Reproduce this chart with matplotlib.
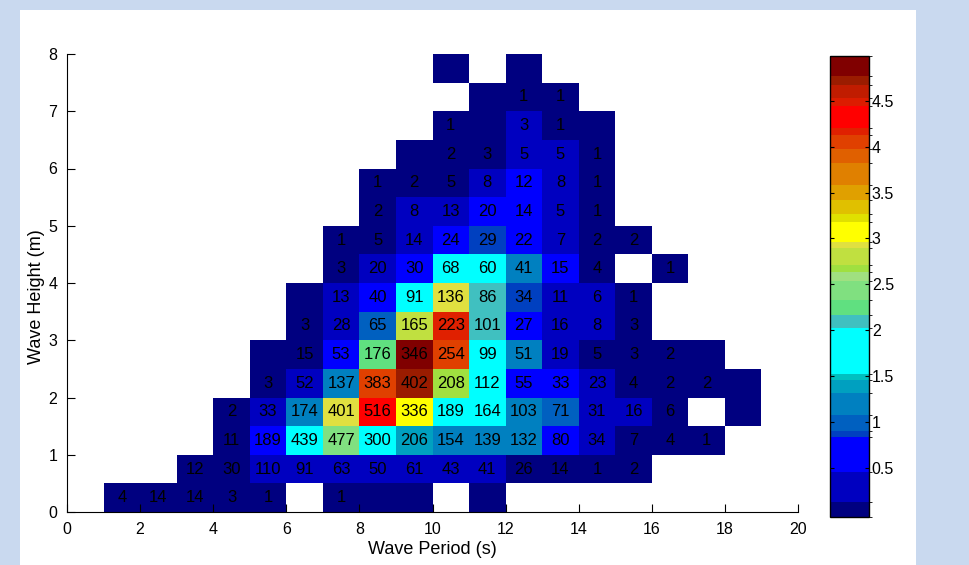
import numpy as np
import matplotlib
matplotlib.use('Agg')
from matplotlib import pyplot as plt, patches
from matplotlib.colors import ListedColormap, BoundaryNorm

plt.rcParams['font.family'] = ['Liberation Sans', 'DejaVu Sans']

_ = None

# wave period bins (s) and wave height bins (m)
period_edges = np.arange(0, 21, 1)
height_edges = np.arange(0, 8.5, 0.5)

# number of occurrences per bin (None = no data, 0 = coloured but unlabelled)
counts = [
    [_, 4, 14, 14, 3, 1, _, 1, 0, 0, _, 0, _, _, _, _, _, _, _, _],
    [_, _, _, 12, 30, 110, 91, 63, 50, 61, 43, 41, 26, 14, 1, 2, _, _, _, _],
    [_, _, _, _, 11, 189, 439, 477, 300, 206, 154, 139, 132, 80, 34, 7, 4, 1, _, _],
    [_, _, _, _, 2, 33, 174, 401, 516, 336, 189, 164, 103, 71, 31, 16, 6, _, 0, _],
    [_, _, _, _, _, 3, 52, 137, 383, 402, 208, 112, 55, 33, 23, 4, 2, 2, 0, _],
    [_, _, _, _, _, 0, 15, 53, 176, 346, 254, 99, 51, 19, 5, 3, 2, 0, _, _],
    [_, _, _, _, _, _, 3, 28, 65, 165, 223, 101, 27, 16, 8, 3, _, _, _, _],
    [_, _, _, _, _, _, 0, 13, 40, 91, 136, 86, 34, 11, 6, 1, _, _, _, _],
    [_, _, _, _, _, _, _, 3, 20, 30, 68, 60, 41, 15, 4, _, 1, _, _, _],
    [_, _, _, _, _, _, _, 1, 5, 14, 24, 29, 22, 7, 2, 2, _, _, _, _],
    [_, _, _, _, _, _, _, _, 2, 8, 13, 20, 14, 5, 1, _, _, _, _, _],
    [_, _, _, _, _, _, _, _, 1, 2, 5, 8, 12, 8, 1, _, _, _, _, _],
    [_, _, _, _, _, _, _, _, _, 0, 2, 3, 5, 5, 1, _, _, _, _, _],
    [_, _, _, _, _, _, _, _, _, _, 1, 0, 3, 1, 0, _, _, _, _, _],
    [_, _, _, _, _, _, _, _, _, _, _, 0, 1, 1, _, _, _, _, _, _],
    [_, _, _, _, _, _, _, _, _, _, 0, _, 0, _, _, _, _, _, _, _],
]

# colour value per bin
levels = [
    [_, .05, .05, .05, .05, .05, _, .05, .05, .05, _, .05, _, _, _, _, _, _, _, _],
    [_, _, _, .05, .05, .3, .3, .3, .3, .3, .3, .3, .05, .05, .05, .05, _, _, _, _],
    [_, _, _, _, .05, .65, 1.75, 2.45, 1.75, 1.38, 1.2, 1.2, 1.2, .65, .3, .05, .05, .05, _, _],
    [_, _, _, _, .05, .3, 1.2, 2.92, 4.3, 3.05, 1.75, 1.75, 1.2, 1.0, .3, .3, .05, _, .05, _],
    [_, _, _, _, _, .05, .3, 1.2, 4.05, 4.72, 2.67, 1.75, .65, .65, .3, .05, .05, .05, .05, _],
    [_, _, _, _, _, .05, .05, .65, 2.25, 4.9, 4.05, 1.75, 1.2, .3, .05, .05, .05, .05, _, _],
    [_, _, _, _, _, _, .05, .3, 1.0, 2.8, 4.16, 2.1, .65, .3, .3, .05, _, _, _, _],
    [_, _, _, _, _, _, .05, .3, .65, 1.75, 2.92, 2.1, .86, .3, .3, .05, _, _, _, _],
    [_, _, _, _, _, _, _, .05, .3, .65, 1.75, 1.75, 1.2, .65, .05, _, .05, _, _, _],
    [_, _, _, _, _, _, _, .05, .05, .3, .65, .86, .65, .3, .05, .05, _, _, _, _],
    [_, _, _, _, _, _, _, _, .05, .3, .3, .65, .65, .3, .05, _, _, _, _, _],
    [_, _, _, _, _, _, _, _, .05, .05, .05, .3, .65, .3, .05, _, _, _, _, _],
    [_, _, _, _, _, _, _, _, _, .05, .05, .05, .3, .3, .05, _, _, _, _, _],
    [_, _, _, _, _, _, _, _, _, _, .05, .05, .3, .05, .05, _, _, _, _, _],
    [_, _, _, _, _, _, _, _, _, _, _, .05, .05, .05, _, _, _, _, _, _],
    [_, _, _, _, _, _, _, _, _, _, .05, _, .05, _, _, _, _, _, _, _],
]

# stepped colour scale
band_edges = [-0.04, 0.12, 0.45, 0.83, 0.90, 1.07, 1.31, 1.45, 1.52, 2.02, 2.16,
              2.33, 2.54, 2.63, 2.71, 2.89, 2.96, 3.18, 3.27, 3.42, 3.58, 3.82,
              3.98, 4.13, 4.20, 4.44, 4.53, 4.67, 4.77, 4.99]
band_colors = ['#000080', '#0000c0', '#0000ff', '#0040c0', '#0060c0', '#0080c0',
               '#00a0c0', '#00c0c0', '#00ffff', '#40c0c0', '#60e080', '#80e080',
               '#a0e080', '#a0e040', '#c0e040', '#e0e040', '#ffff00', '#e0e000',
               '#e0c000', '#e0a000', '#e08000', '#e06000', '#e04000', '#e02000',
               '#ff0000', '#dc1c00', '#c01c00', '#9a1c00', '#800000']
cbar_ticks = [0.5, 1, 1.5, 2, 2.5, 3, 3.5, 4, 4.5]
cbar_labels = ['0.5', '1', '1.5', '2', '2.5', '3', '3.5', '4', '4.5']

def to_array(rows):
    return np.array([[np.nan if v is None else v for v in r] for r in rows], dtype=float)

C = to_array(counts)
L = np.ma.masked_invalid(to_array(levels))

fig = plt.figure(figsize=(9.69, 5.65), dpi=100, facecolor='#c9d9ef')
# white slide panel behind the chart
fig.patches.append(patches.Rectangle((20/969, 0), 896/969, 555/565, transform=fig.transFigure,
                                     facecolor='white', edgecolor='none', zorder=-5))

ax = fig.add_axes([67/969, 1-512/565, 731/969, 458/565])
cmap = ListedColormap(band_colors)
norm = BoundaryNorm(band_edges, cmap.N)
mesh = ax.pcolormesh(period_edges, height_edges, L, cmap=cmap, norm=norm, shading='flat')

xc = (period_edges[:-1] + period_edges[1:]) / 2
yc = (height_edges[:-1] + height_edges[1:]) / 2
for i in range(C.shape[0]):
    for j in range(C.shape[1]):
        v = C[i, j]
        if not np.isnan(v) and v > 0:
            ax.text(xc[j], yc[i], '%d' % v, ha='center', va='center', fontsize=12, color='black')

ax.set_xlim(0, 20)
ax.set_ylim(0, 8)
ax.set_xticks(np.arange(0, 21, 2))
ax.set_yticks(np.arange(0, 9, 1))
ax.spines['right'].set_visible(False)
ax.spines['top'].set_visible(False)
ax.tick_params(direction='in', length=5.5, labelsize=11.5)
ax.tick_params(axis='x', pad=7)
ax.tick_params(axis='y', pad=7)
ax.set_xlabel('Wave Period (s)', fontsize=13, labelpad=3)
ax.set_ylabel('Wave Height (m)', fontsize=13, labelpad=2)
ax.yaxis.set_label_coords(-0.030, 0.47)

cax = fig.add_axes([830/969, 1-517/565, 39/969, 461/565])
cb = fig.colorbar(mesh, cax=cax, spacing='proportional', ticks=cbar_ticks)
cb.ax.set_yticklabels(cbar_labels)
cb.ax.tick_params(direction='in', length=3, labelsize=11.5, pad=2, left=True)
cb.outline.set_linewidth(1)

fig.savefig('out.png', dpi=100, facecolor=fig.get_facecolor())
